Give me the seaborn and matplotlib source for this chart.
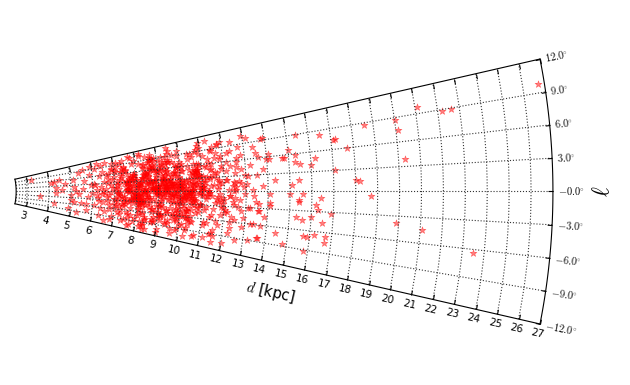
import matplotlib
matplotlib.use("Agg")
import matplotlib.pyplot as plt
import numpy as np
import pandas as pd
import seaborn as sns
from matplotlib.projections import PolarAxes
from matplotlib.transforms import Affine2D
import mpl_toolkits.axisartist.floating_axes as floating_axes
from mpl_toolkits.axisartist.grid_finder import DictFormatter, FixedLocator

# wedge extent: galactic longitude (deg) and distance (kpc)
L_MIN, L_MAX = -12.0, 12.0
D_MIN, D_MAX = 2.5, 27.0

l_ticks = [-12, -9, -6, -3, 0, 3, 6, 9, 12]
l_ticklabels = [r"$-12.0^{\circ}$", r"$-9.0^{\circ}$", r"$-6.0^{\circ}$", r"$-3.0^{\circ}$",
                r"$-0.0^{\circ}$", r"$3.0^{\circ}$", r"$6.0^{\circ}$", r"$9.0^{\circ}$",
                r"$12.0^{\circ}$"]
d_ticks = [3, 4, 5, 6, 7, 8, 9, 10, 11, 12, 13, 14, 15, 16, 17, 18, 19, 20,
           21, 22, 23, 24, 25, 26, 27]

# stars, grouped by distance band
d_inner = [3.2, 3.6, 4.1, 4.25, 4.5, 4.3, 4.3, 4.27, 4.6, 5.1,
           5.15, 5.0, 5.23, 5.0, 5.16, 5.5, 5.4, 5.6, 5.8, 5.9,
           5.75, 5.9, 4.9, 5.35, 5.6, 5.7, 5.85, 5.55, 4.75, 5.95, 5.3]
l_inner = [8.6, -3.0, 5.2, 5.7, 6.3, 1.8, -1.0, -6.4, 0.8, 5.5,
           2.3, -1.7, 0.1, -4.1, -4.8, -4.9, 8.3, 9.3, -2.2, 2.7,
           -7.8, 10.2, -8.3, -1.2, 4.4, -5.5, 6.8, 0.9, 3.9, -0.6, -9.6]

d_6 = [6.05, 6.1, 6.15, 6.2, 6.22, 6.3, 6.33, 6.38, 6.4, 6.45,
       6.5, 6.52, 6.55, 6.6, 6.62, 6.65, 6.7, 6.72, 6.75, 6.8,
       6.82, 6.85, 6.88, 6.9, 6.93, 6.95, 6.98, 6.12, 6.28, 6.43,
       6.58, 6.68, 6.78, 6.91, 6.36, 6.47, 6.63, 6.74, 6.87, 6.97,
       6.25, 6.57, 6.83, 6.18, 6.94]
l_6 = [3.1, -5.2, 8.9, 0.4, -2.7, 5.8, -9.1, 1.9, -0.8, 7.2,
       -4.0, 3.6, -7.1, 10.4, 0.9, -1.9, 4.7, -3.4, 6.4, -6.2,
       2.2, -0.2, 8.1, -8.7, 1.3, -2.5, 5.1, 2.5, -3.8, 9.6,
       -10.5, 3.0, -5.0, 7.7, -6.5, 0.0, 6.0, -1.1, 4.1, -4.4,
       10.9, -0.5, -10.0, -1.4, 9.5]

d_7 = [7.05, 7.42, 7.81, 7.17, 7.63, 7.29, 7.94, 7.51, 7.08, 7.36,
       7.72, 7.22, 7.88, 7.46, 7.13, 7.59, 7.31, 7.97, 7.68, 7.02,
       7.39, 7.84, 7.25, 7.55, 7.11, 7.77, 7.44, 7.19, 7.91, 7.33,
       7.62, 7.07, 7.49, 7.86, 7.27, 7.70, 7.15, 7.57, 7.38, 7.93,
       7.21, 7.66, 7.03, 7.47, 7.80, 7.34, 7.12, 7.74, 7.53, 7.26,
       7.89, 7.41, 7.09, 7.64, 7.30, 7.98, 7.18, 7.56, 7.83, 7.45,
       7.01, 7.69, 7.37, 7.92, 7.24, 7.60, 7.14, 7.79, 7.48, 7.32,
       7.87, 7.06, 7.52, 7.23, 7.75, 7.43, 7.10, 7.65, 7.35, 7.96]
l_7 = [0.3, -2.1, 4.6, -6.8, 1.7, 9.2, -0.9, 3.3, -4.5, 6.1,
       -10.3, 2.4, -1.6, 7.8, -3.2, 0.8, 5.3, -8.0, 1.1, -5.7,
       10.1, -0.2, 3.9, -2.8, 8.5, -7.3, 2.9, -1.2, 4.2, -9.5,
       0.5, 6.7, -3.9, 1.9, -6.1, 11.0, -0.6, 2.6, -4.8, 5.8,
       -2.3, 0.0, 7.1, -8.9, 3.6, -1.8, 9.8, -5.2, 1.4, -0.4,
       4.9, -3.5, 2.1, -10.8, 6.4, -1.0, 0.9, -6.5, 3.0, 8.0,
       -2.6, 1.6, -4.2, 5.0, -7.7, 2.7, -0.7, 10.6, -3.0, 4.4,
       -9.0, 1.2, 6.9, -5.0, 0.2, -1.4, 3.4, -8.3, 7.4, -2.0]

d_8 = [8.04, 8.47, 8.91, 8.22, 8.66, 8.13, 8.78, 8.35, 8.97, 8.52,
       8.09, 8.71, 8.28, 8.84, 8.41, 8.16, 8.60, 8.02, 8.93, 8.37,
       8.75, 8.19, 8.55, 8.88, 8.31, 8.06, 8.68, 8.44, 8.99, 8.25,
       8.58, 8.11, 8.82, 8.39, 8.63, 8.21, 8.95, 8.48, 8.07, 8.73,
       8.33, 8.86, 8.14, 8.57, 8.01, 8.69, 8.42, 8.90, 8.27, 8.61,
       8.18, 8.80, 8.36, 8.53, 8.08, 8.96, 8.45, 8.24, 8.77, 8.12,
       8.64, 8.30, 8.87, 8.50, 8.03, 8.72, 8.40, 8.94, 8.20, 8.59,
       8.15, 8.83, 8.34, 8.67, 8.05, 8.46, 8.92, 8.26, 8.79, 8.38,
       8.62, 8.10, 8.85, 8.43, 8.70, 8.17, 8.56, 8.98, 8.32, 8.74,
       8.23, 8.49, 8.89, 8.00, 8.65, 8.29, 8.81, 8.54, 8.13, 8.44]
l_8 = [1.2, -3.4, 5.7, -0.5, 8.8, -6.3, 2.5, -9.7, 0.6, 4.0,
       -1.9, 10.2, -4.6, 3.1, -7.5, 1.8, 6.6, -2.4, 0.1, -11.0,
       7.3, -0.8, 2.9, -5.3, 4.7, -1.3, 9.5, -8.1, 1.5, -3.0,
       5.2, 0.4, -6.9, 3.7, -2.0, 11.1, -0.1, 2.2, -4.0, 6.3,
       -9.2, 1.0, 8.1, -1.6, 3.5, -5.8, 0.7, 4.4, -2.9, 7.0,
       -10.4, 2.0, -0.3, 5.5, -7.0, 1.4, 9.9, -3.7, 0.9, -1.1,
       3.2, -6.0, 6.0, -2.2, 1.7, -8.6, 4.9, 0.2, 10.7, -4.3,
       2.6, -0.6, 7.6, -5.0, 1.9, -1.7, 3.9, -9.9, 5.9, 0.0,
       -3.1, 2.3, 8.4, -7.8, 0.5, -2.6, 4.3, -0.9, 6.8, -4.9,
       1.3, -10.9, 3.0, -1.4, 9.0, -6.6, 2.8, 0.3, -3.3, 5.0]

d_9 = [9.03, 9.46, 9.88, 9.21, 9.67, 9.12, 9.79, 9.34, 9.95, 9.53,
       9.08, 9.72, 9.27, 9.85, 9.40, 9.15, 9.61, 9.01, 9.92, 9.38,
       9.76, 9.18, 9.56, 9.89, 9.30, 9.05, 9.69, 9.43, 9.98, 9.24,
       9.59, 9.10, 9.83, 9.36, 9.64, 9.20, 9.96, 9.49, 9.06, 9.74,
       9.32, 9.87, 9.13, 9.58, 9.02, 9.70, 9.41, 9.91, 9.26, 9.62,
       9.17, 9.81, 9.35, 9.54, 9.09, 9.97, 9.44, 9.23, 9.78, 9.11,
       9.65, 9.29, 9.86, 9.51, 9.04, 9.73, 9.39, 9.93, 9.19, 9.60,
       9.14, 9.84, 9.33, 9.68, 9.07, 9.47, 9.90, 9.25, 9.80, 9.37,
       9.63, 9.16, 9.86, 9.42, 9.71, 9.22, 9.57, 9.99, 9.31, 9.75,
       9.28, 9.50, 9.88, 9.00, 9.66, 9.45, 9.82, 9.55, 9.12, 9.48]
l_9 = [-0.4, 2.7, -5.1, 7.9, 0.8, -2.5, 4.5, -8.4, 1.6, 10.5,
       -1.2, 3.8, -6.4, 0.2, 6.2, -3.6, 2.1, -10.1, 8.6, -0.7,
       4.8, -1.9, 1.1, -7.2, 5.6, -4.1, 9.3, 0.5, -2.8, 3.3,
       -9.4, 1.7, -0.1, 7.1, -5.5, 2.4, -1.5, 11.2, -3.9, 0.9,
       5.1, -6.8, 3.0, -0.6, 8.2, -2.2, 1.3, -8.9, 4.1, -1.0,
       6.5, -4.4, 0.0, 2.9, -7.6, 10.0, -2.0, 3.6, -0.3, 5.4,
       -10.6, 1.9, -3.2, 7.5, 0.6, -5.9, 2.5, -1.6, 9.1, -0.9,
       4.3, -6.1, 1.4, -2.6, 6.8, -8.0, 3.4, 0.3, -4.7, 8.9,
       -1.3, 2.0, -9.6, 5.3, -0.5, 3.1, -3.0, 1.0, 7.7, -7.0,
       0.7, -1.8, 4.6, -10.9, 2.2, -0.2, 6.0, -4.2, 1.5, 9.7]

d_10 = [10.06, 10.49, 10.85, 10.22, 10.68, 10.13, 10.77, 10.35, 10.94, 10.51,
        10.09, 10.73, 10.28, 10.88, 10.41, 10.17, 10.60, 10.02, 10.97, 10.37,
        10.74, 10.20, 10.56, 10.90, 10.31, 10.05, 10.66, 10.44, 10.99, 10.25,
        10.58, 10.11, 10.83, 10.39, 10.63, 10.19, 10.95, 10.47, 10.08, 10.71,
        10.33, 10.86, 10.14, 10.57, 10.01, 10.69, 10.42, 10.92, 10.27, 10.61,
        10.16, 10.80, 10.36, 10.53, 10.07, 10.96, 10.45, 10.23, 10.78, 10.12,
        10.64, 10.30, 10.87, 10.50, 10.04, 10.72, 10.40, 10.93, 10.18, 10.59,
        10.15, 10.82, 10.34, 10.67, 10.03, 10.46, 10.91, 10.26, 10.79, 10.38]
l_10 = [1.5, -2.9, 6.1, -0.6, 3.7, -7.9, 9.0, -1.5, 0.4, -4.3,
        4.9, -9.8, 2.2, -0.2, 7.6, -3.3, 1.0, -6.0, 10.8, -1.1,
        3.2, -5.2, 0.7, 8.3, -2.1, 5.0, -10.2, 1.8, -0.8, 2.8,
        -7.1, 6.6, -3.8, 0.1, 4.1, -1.7, 9.6, -5.6, 2.5, -0.4,
        -8.5, 3.5, 1.2, -2.5, 7.2, -4.8, 0.0, 5.7, -9.1, 2.0,
        -1.3, 4.4, -6.6, 8.7, 0.9, -3.0, 1.6, -10.7, 6.3, -0.9,
        3.0, -5.9, 10.3, -2.3, 0.6, 4.6, -7.5, 1.3, -1.9, 7.9,
        -4.0, 2.7, -0.1, 5.4, -8.2, 3.9, -2.7, 0.8, 9.3, -6.3]

d_11 = [11.04, 11.52, 11.89, 11.23, 11.67, 11.11, 11.78, 11.36, 11.95, 11.48,
        11.07, 11.71, 11.29, 11.84, 11.41, 11.16, 11.60, 11.02, 11.92, 11.34,
        11.75, 11.19, 11.57, 11.88, 11.31, 11.06, 11.65, 11.44, 11.97, 11.26,
        11.58, 11.12, 11.81, 11.38, 11.63, 11.21, 11.94, 11.47, 11.09, 11.73,
        11.33, 11.86, 11.14, 11.55, 11.01, 11.69, 11.43, 11.90, 11.27, 11.62,
        11.18, 11.80, 11.37, 11.53, 11.08, 11.98, 11.45, 11.24, 11.77, 11.13]
l_11 = [0.9, -3.6, 5.3, -1.0, 8.0, -6.7, 2.3, -0.3, 10.1, -8.8,
        3.4, -2.2, 6.9, -4.9, 1.1, -10.0, 4.0, -0.7, 7.3, -5.4,
        1.9, -1.6, 9.4, -3.1, 0.2, -7.4, 2.8, 5.9, -2.6, 11.0,
        -9.3, 1.4, -0.5, 4.5, -6.2, 3.1, -1.3, 8.6, -4.1, 0.5,
        6.2, -2.0, 2.0, -8.1, 0.0, 3.8, -5.0, 1.7, -0.9, 7.0,
        -3.4, 9.9, 2.6, -10.6, 0.6, -1.8, 4.8, -6.9, 1.2, 5.6]

# the crowded middle of the cloud, 7.5-11 kpc
d_core = [7.55, 8.12, 8.67, 9.21, 9.78, 10.33, 10.86, 7.93, 8.44, 9.02,
          9.57, 10.11, 10.64, 7.71, 8.26, 8.83, 9.36, 9.91, 10.47, 10.95,
          7.62, 8.19, 8.73, 9.29, 9.84, 10.38, 7.84, 8.37, 8.95, 9.48,
          10.02, 10.57, 7.58, 8.05, 8.61, 9.14, 9.69, 10.24, 10.79, 8.29,
          8.88, 9.42, 9.96, 10.51, 7.76, 8.31, 8.79, 9.33, 9.87, 10.42,
          7.67, 8.22, 8.76, 9.25, 9.81, 10.29, 10.83, 7.89, 8.41, 8.98,
          9.52, 10.07, 10.61, 7.53, 8.08, 8.64, 9.18, 9.73, 10.27, 10.74,
          7.98, 8.52, 9.07, 9.62, 10.16, 10.69, 7.81, 8.35, 8.91, 9.44,
          9.99, 10.54, 7.64, 8.17, 8.71, 9.26, 9.79, 10.34, 10.89, 8.03,
          8.58, 9.11, 9.66, 10.21, 10.76, 7.73, 8.27, 8.84, 9.38, 9.93,
          10.48, 7.60, 8.14, 8.69, 9.23, 9.76, 10.31, 10.85, 7.95, 8.49,
          9.04, 9.59, 10.13, 10.66, 7.70, 8.24, 8.81, 9.35, 9.89, 10.44,
          7.87, 8.40, 8.97, 9.50, 10.05, 10.59, 7.57, 8.11, 8.66, 9.20,
          9.74, 10.28, 10.81, 8.33, 8.90, 9.45, 9.97, 10.52, 7.79, 8.46,
          9.01, 9.55, 10.09, 10.63, 7.66, 8.20, 8.75, 9.30, 9.85, 10.39,
          7.91, 8.43, 9.00, 9.53, 10.04, 10.58, 7.52, 8.06, 8.60, 9.16,
          9.71, 10.25, 10.78, 8.30, 8.86, 9.40, 9.94, 10.49, 7.82, 8.38,
          8.93, 9.47, 10.00, 10.55, 7.68, 8.21, 8.77, 9.32, 9.86, 10.41,
          7.74, 8.28, 8.82, 9.37, 9.90, 10.45, 10.97, 8.00, 8.55, 9.09,
          9.63, 10.18, 10.71, 7.85, 8.39, 8.96, 9.51, 10.06, 10.60, 9.27]
l_core = [0.6, -1.4, 2.9, -4.2, 1.3, -0.8, 3.7, -2.3, 5.4, -6.1,
          2.1, 0.2, -3.0, 4.1, -1.1, 6.8, -5.0, 1.7, -0.3, 3.3,
          -7.2, 2.5, -2.0, 0.9, 5.9, -3.8, 1.5, 7.7, -0.6, 4.4,
          -4.9, 0.4, 3.1, -1.7, 8.3, -6.6, 2.0, -0.1, 4.9, -2.7,
          1.1, -5.6, 6.2, 0.0, -2.4, 3.6, -8.1, 1.8, -0.9, 5.1,
          -3.3, 2.6, 9.0, -1.5, 0.7, -4.5, 3.9, -0.4, 6.5, -7.0,
          1.4, -2.8, 4.3, 0.3, -5.3, 2.3, 7.1, -1.2, 0.8, -3.6,
          3.4, -0.7, 5.7, -6.3, 1.9, -1.9, 8.6, 0.1, -4.0, 2.8,
          -2.2, 4.6, -0.2, 1.2, -7.6, 3.0, -1.0, 6.0, -3.1, 0.5,
          2.4, -5.9, 7.4, -0.5, 1.6, -2.6, 4.0, -8.5, 0.9, 3.5,
          -1.6, 5.5, -3.4, 1.0, -0.3, 6.9, -4.7, 2.2, 9.4, -1.3,
          0.2, 3.8, -6.0, 1.7, 4.5, -2.1, 0.6, -7.9, 2.7, -0.6,
          5.0, -3.9, 1.3, 8.0, -1.8, 0.4, 3.2, -5.1, 6.3, -0.9,
          2.0, -4.4, 4.8, 0.0, -2.5, 7.5, 1.5, -6.8, 3.7, -0.2,
          -3.0, 1.0, 5.8, -1.4, 2.9, -8.8, 0.7, 4.2, -2.9, 8.9,
          -0.7, 2.5, -5.5, 3.3, 0.3, -1.1, 6.7, -3.7, 1.8, -0.4,
          4.7, -6.4, 1.1, -2.3, 9.2, 0.6, -4.1, 3.0, -1.5, 5.2,
          0.1, -7.3, 2.2, -0.8, 4.1, -3.2, 7.0, 1.4, -5.7, 2.6,
          -1.9, 3.9, 0.5, -4.8, 6.1, -0.1, 2.1, -2.7, 8.2, -6.2,
          1.6, -1.0, 4.4, -3.5, 0.8, 5.6, -0.5, 2.7, -2.0, 3.1]

# the fading outer part of the cloud, 10.6-12.6 kpc
d_fringe = [11.05, 11.6, 12.1, 11.3, 11.85, 12.35, 11.15, 11.7, 12.2, 11.45,
            11.95, 12.45, 11.2, 11.75, 12.25, 11.5, 12.0, 12.55, 11.1, 11.65,
            12.15, 11.4, 11.9, 12.4, 11.25, 11.8, 12.3, 11.55, 12.05, 12.6,
            10.6, 10.9, 10.75, 11.35, 10.7, 11.0, 10.65, 10.85, 11.42, 12.5]
l_fringe = [1.0, -2.5, 4.2, -0.4, 6.6, -5.1, 2.6, -1.2, 0.3, 8.8,
            -3.3, 1.9, 5.3, -7.0, -0.8, 3.4, -4.4, 0.9, 7.8, -1.6,
            2.2, -9.0, 4.6, -2.0, 0.0, 9.6, -6.0, 1.3, -3.8, 5.6,
            2.0, -0.6, 4.9, 3.0, -2.2, 0.7, 6.3, -4.6, -1.0, 1.6]

d_12 = [12.1, 12.15, 12.2, 12.25, 12.3, 12.32, 12.38, 12.4, 12.45, 12.5,
        12.52, 12.55, 12.6, 12.62, 12.68, 12.7, 12.74, 12.78, 12.8, 12.85,
        12.88, 12.92, 12.95, 12.98, 12.05, 12.12, 12.27, 12.43, 12.58, 12.66,
        12.76, 12.9, 12.35, 12.82, 12.47,
        13.05, 13.1, 13.2, 13.25, 13.3, 13.4, 13.45, 13.5, 13.55, 13.6,
        13.65, 13.75, 13.8, 13.9, 13.8, 13.35, 13.85, 13.15, 13.95, 13.6,
        13.2, 13.5, 13.1]
l_12 = [2.4, -4.1, 7.6, -0.9, 5.0, -7.3, 1.1, 9.7, -2.6, 3.6,
        -5.5, 0.3, 6.4, -9.4, 2.0, -1.7, 8.5, -3.8, 4.3, -6.8,
        0.8, 10.4, -0.4, 3.0, -10.5, 5.9, -8.2, 0.0, 4.7, -3.0,
        1.6, -4.9, 8.0, 6.9, -1.2,
        1.4, -3.1, 4.8, -6.0, 0.2, 8.1, -1.9, 2.9, -3.5, 6.2,
        -8.3, 0.9, 3.9, 9.3, 9.2, -0.8, -4.4, 9.9, 5.6, -2.2,
        -9.0, 7.0, 2.8]

d_outer = [18.6, 17.1, 17.2, 16.5, 15.4, 17.7, 15.0, 15.3, 16.2, 14.7,
           14.8, 15.3, 15.5, 16.0, 14.1, 14.1, 17.1, 18.0, 18.2, 18.7,
           16.4, 15.4, 14.3, 15.6, 15.0, 14.1, 15.4, 15.4, 16.2, 16.3,
           16.9, 16.0, 15.3, 16.5, 15.6, 14.4, 15.7, 15.9, 16.2, 16.7,
           16.7, 15.8, 14.8, 13.6, 13.7, 13.4, 14.1, 14.1, 15.1, 13.2,
           13.6]
l_outer = [8.7, 7.3, 7.4, 8.4, 8.9, 6.0, 6.8, 5.8, 5.1, 5.6,
           5.5, 4.7, 4.3, 4.0, 6.4, 5.6, 3.1, 1.5, 1.4, -0.6,
           -0.9, 1.8, 1.9, -0.4, -0.4, -0.4, -1.3, -1.7, -2.0, -2.8,
           -3.2, -3.8, -4.0, -4.7, -4.5, -7.0, -6.9, -7.0, -6.6, -6.7,
           -7.5, -9.2, -8.6, -8.3, -6.1, -5.9, -2.0, -2.5, 1.1, -3.1,
           -3.5]

d_far = [26.7, 21.1, 22.2, 22.6, 20.0, 20.1, 20.3, 19.9, 21.1, 23.5]
l_far = [9.8, 9.8, 8.8, 8.9, 8.7, 7.4, 3.9, -3.9, -4.4, -6.4]

stars = pd.DataFrame({
    "d": (d_inner + d_6 + d_7 + d_8 + d_9 + d_10 + d_11 + d_core + d_fringe
          + d_12 + d_outer + d_far),
    "l": (l_inner + l_6 + l_7 + l_8 + l_9 + l_10 + l_11 + l_core + l_fringe
          + l_12 + l_outer + l_far),
})

plt.rcParams["mathtext.fontset"] = "cm"

fig = plt.figure(figsize=(6.3, 3.85), dpi=100)

# longitude in degrees -> polar angle, distance -> radius
tr = Affine2D().scale(np.pi / 180.0, 1.0) + PolarAxes.PolarTransform(apply_theta_transforms=False)
grid_helper = floating_axes.GridHelperCurveLinear(
    tr,
    extremes=(L_MIN, L_MAX, D_MIN, D_MAX),
    grid_locator1=FixedLocator(l_ticks),
    tick_formatter1=DictFormatter(dict(zip(l_ticks, l_ticklabels))),
    grid_locator2=FixedLocator(d_ticks),
    tick_formatter2=DictFormatter({d: str(d) for d in d_ticks}),
)
ax = fig.add_axes([0.0152, 0.1516, 0.871, 0.702],
                  axes_class=floating_axes.FloatingAxes, grid_helper=grid_helper)
ax.set_aspect("auto")
ax.grid(True, linestyle=":", color="0.2", linewidth=0.8)

# distance ticks along the lower edge
ax.axis["left"].set_axis_direction("bottom")
ax.axis["left"].label.set_text(r"$d$ [kpc]")
ax.axis["left"].label.set_fontsize(10.5)
ax.axis["left"].major_ticklabels.set_fontsize(7.5)

# longitude ticks on the outer arc
ax.axis["top"].set_axis_direction("right")
ax.axis["top"].toggle(ticklabels=True, label=True)
ax.axis["top"].label.set_text(r"$\ell$")
ax.axis["top"].label.set_fontsize(17)
ax.axis["top"].label.set_pad(0)
ax.axis["top"].major_ticklabels.set_fontsize(7.5)

# upper edge: ticks pointing into the wedge, no labels
ax.axis["right"].major_ticks.set_tick_out(True)
ax.axis["right"].toggle(ticklabels=False, label=False)
ax.axis["bottom"].toggle(ticks=False, ticklabels=False, label=False)

aux_ax = ax.get_aux_axes(tr)
aux_ax.patch = ax.patch
ax.patch.zorder = 0.9

sns.scatterplot(data=stars, x="l", y="d", ax=aux_ax, marker="*", color="red",
                edgecolor="red", linewidth=0.4, alpha=0.5, s=28, legend=False)

fig.savefig("out.png", dpi=100)
